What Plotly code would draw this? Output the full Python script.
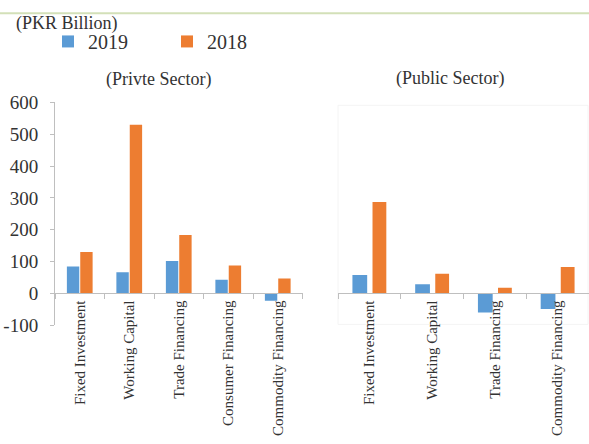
import plotly.graph_objects as go

# Financing by purpose, PKR billion
private_categories = ["Fixed Investment", "Working Capital", "Trade Financing",
                      "Consumer Financing", "Commodity Financing"]
private_2019 = [85, 67, 102, 43, -23]
private_2018 = [130, 530, 184, 88, 47]

public_categories = ["Fixed Investment", "Working Capital", "Trade Financing",
                     "Commodity Financing"]
public_2019 = [58, 29, -60, -49]
public_2018 = [287, 62, 18, 83]

y_ticks = [-100, 0, 100, 200, 300, 400, 500, 600]

BLUE = "#5B9BD5"
ORANGE = "#ED7D31"
AXIS = "#BFBFBF"
TEXT = "#333333"
FONT = "Liberation Serif"

W, H = 589, 444
y_lo, y_hi = -100, 600
left_dom = [55 / W, 302.5 / W]
right_dom = [338 / W, 1.0]
y_dom = [(H - 331) / H, (H - 97) / H]
zero_pos = y_dom[0] + (0 - y_lo) / (y_hi - y_lo) * (y_dom[1] - y_dom[0])

fig = go.Figure()

# Private sector panel
fig.add_trace(go.Bar(x=private_categories, y=private_2019, name="2019",
                     marker=dict(color=BLUE, line=dict(width=0)),
                     width=0.25, offset=-0.26, xaxis="x", yaxis="y",
                     legendgroup="2019", showlegend=True))
fig.add_trace(go.Bar(x=private_categories, y=private_2018, name="2018",
                     marker=dict(color=ORANGE, line=dict(width=0)),
                     width=0.25, offset=0.01, xaxis="x", yaxis="y",
                     legendgroup="2018", showlegend=True))

# Public sector panel
fig.add_trace(go.Bar(x=public_categories, y=public_2019, name="2019",
                     marker=dict(color=BLUE, line=dict(width=0)),
                     width=0.235, offset=-0.27, xaxis="x2", yaxis="y2",
                     legendgroup="2019", showlegend=False))
fig.add_trace(go.Bar(x=public_categories, y=public_2018, name="2018",
                     marker=dict(color=ORANGE, line=dict(width=0)),
                     width=0.22, offset=0.05, xaxis="x2", yaxis="y2",
                     legendgroup="2018", showlegend=False))

cat_axis = dict(
    type="category", anchor="free", position=zero_pos,
    showline=True, linecolor=AXIS, linewidth=1,
    ticks="outside", tickson="boundaries", ticklen=5, tickcolor=AXIS,
    tickangle=-90, showgrid=False, zeroline=False,
    tickfont=dict(family=FONT, size=15, color=TEXT),
)

fig.update_layout(
    width=W, height=H,
    margin=dict(l=0, r=0, t=0, b=0),
    paper_bgcolor="white", plot_bgcolor="rgba(0,0,0,0)",
    barmode="overlay",
    font=dict(family=FONT, color=TEXT),
    xaxis=dict(cat_axis, domain=left_dom,
               range=[-0.5, len(private_categories) - 0.5]),
    xaxis2=dict(cat_axis, domain=right_dom,
                range=[-0.5, len(public_categories) - 0.5]),
    yaxis=dict(domain=y_dom, range=[y_lo, y_hi], anchor="x",
               tickvals=y_ticks, ticktext=[str(v) for v in y_ticks],
               showline=True, linecolor=AXIS, linewidth=1,
               ticks="outside", ticklen=4, tickcolor=AXIS,
               ticklabelstandoff=8,
               showgrid=False, zeroline=False,
               tickfont=dict(family=FONT, size=19, color=TEXT)),
    yaxis2=dict(domain=y_dom, range=[y_lo, y_hi], anchor="x2",
                visible=False, showgrid=False, zeroline=False),
    legend=dict(orientation="h", x=48 / W, xanchor="left",
                y=(H - 33) / H, yanchor="middle",
                entrywidth=74, entrywidthmode="pixels",
                font=dict(family=FONT, size=20, color=TEXT),
                bgcolor="rgba(0,0,0,0)", itemclick=False),
    annotations=[
        dict(text="(PKR Billion)", x=67 / W, y=(H - 14) / H,
             xref="paper", yref="paper", showarrow=False,
             xanchor="center", yanchor="middle",
             font=dict(family=FONT, size=18, color=TEXT)),
        dict(text="(Privte Sector)", x=158 / W, y=(H - 73) / H,
             xref="paper", yref="paper", showarrow=False,
             xanchor="center", yanchor="middle",
             font=dict(family=FONT, size=18, color=TEXT)),
        dict(text="(Public Sector)", x=449.5 / W, y=(H - 72) / H,
             xref="paper", yref="paper", showarrow=False,
             xanchor="center", yanchor="middle",
             font=dict(family=FONT, size=18, color=TEXT)),
    ],
    shapes=[
        # thin rule across the top of the page
        dict(type="line", xref="paper", yref="paper",
             x0=0, x1=1, y0=(H - 3.5) / H, y1=(H - 3.5) / H,
             line=dict(color="#D3E0B8", width=2)),
        # faint frame around the public sector chart area
        dict(type="rect", xref="paper", yref="paper",
             x0=338 / W, x1=588 / W, y0=(H - 330) / H, y1=(H - 100) / H,
             line=dict(color="#F4F4F4", width=1), layer="below"),
    ],
)

fig.write_html("out.html")
